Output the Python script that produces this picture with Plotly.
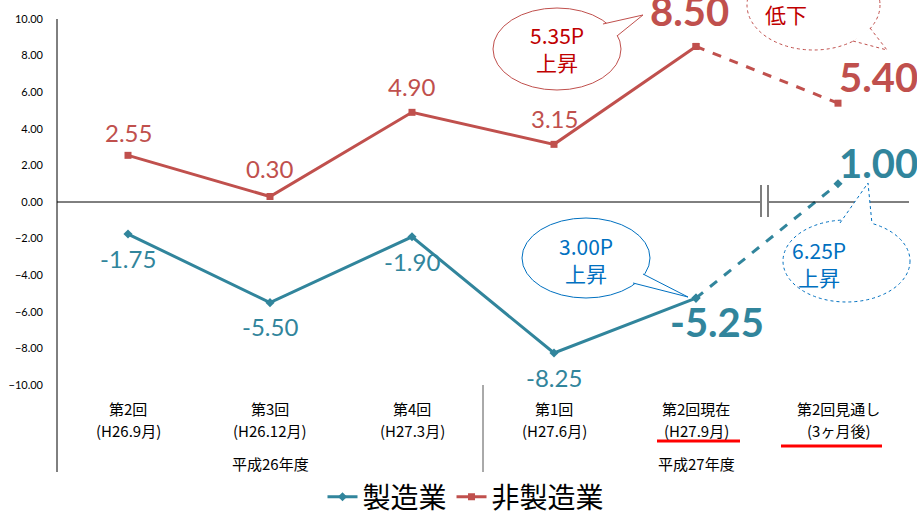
import plotly.graph_objects as go

# ---------------- data ----------------
categories = ["第2回", "第3回", "第4回", "第1回", "第2回現在", "第2回見通し"]
sub_labels = ["(H26.9月)", "(H26.12月)", "(H27.3月)", "(H27.6月)", "(H27.9月)", "(3ヶ月後)"]
groups = ["平成26年度", "平成27年度"]
group_pos = [1, 4]
manufacturing = [-1.75, -5.50, -1.90, -8.25, -5.25, 1.00]
non_manufacturing = [2.55, 0.30, 4.90, 3.15, 8.50, 5.40]
series_names = ["製造業", "非製造業"]
y_ticks = [10, 8, 6, 4, 2, 0, -2, -4, -6, -8, -10]

TEAL = "#31859C"
RED = "#C0504D"
BLUE_T = "#0070C0"
RED_T = "#C00000"

# plot-area geometry in pixels
L, R, T, B = 57, 909, 19, 385
W, H = 917, 513


def px(x):
    return (x - L) / (R - L)


def py(y):
    return (B - y) / (B - T)


xs = list(range(len(categories)))
fig = go.Figure()

# solid parts
fig.add_trace(go.Scatter(x=xs[:5], y=manufacturing[:5], mode="lines+markers", name=series_names[0],
                         line=dict(color=TEAL, width=3), marker=dict(symbol="diamond", size=7, color=TEAL)))
fig.add_trace(go.Scatter(x=xs[:5], y=non_manufacturing[:5], mode="lines+markers", name=series_names[1],
                         line=dict(color=RED, width=3), marker=dict(symbol="square", size=7, color=RED)))
# dashed forecast parts
fig.add_trace(go.Scatter(x=xs[4:], y=manufacturing[4:], mode="lines+markers", showlegend=False,
                         line=dict(color=TEAL, width=3, dash="dash"),
                         marker=dict(symbol="diamond", size=7, color=TEAL)))
fig.add_trace(go.Scatter(x=xs[4:], y=non_manufacturing[4:], mode="lines+markers", showlegend=False,
                         line=dict(color=RED, width=3, dash="dash"),
                         marker=dict(symbol="square", size=7, color=RED)))

annotations = []
# data labels (style offsets)
m_off = [(0, -24), (0, -24), (0, -25), (0, -25), (21, -24), (40, 21)]
n_off = [(0, 23), (0, 28), (0, 26), (0, 26), (-7, 35), (40, 26)]
for i in xs:
    big = i >= 4
    f = dict(family="Lato", size=40 if big else 24, color=TEAL)
    annotations.append(dict(x=i, y=manufacturing[i], xref="x", yref="y",
                            text=("<b>%.2f</b>" if big else "%.2f") % manufacturing[i],
                            showarrow=False, xshift=m_off[i][0], yshift=m_off[i][1], font=f))
    f2 = dict(family="Lato", size=40 if big else 24, color=RED)
    annotations.append(dict(x=i, y=non_manufacturing[i], xref="x", yref="y",
                            text=("<b>%.2f</b>" if big else "%.2f") % non_manufacturing[i],
                            showarrow=False, xshift=n_off[i][0], yshift=n_off[i][1], font=f2))

# category labels
cat_font = dict(family="Noto Sans CJK JP", size=15, color="#000000")
for i in xs:
    annotations.append(dict(x=i, y=py(408), xref="x", yref="paper", text=categories[i],
                            showarrow=False, font=cat_font, yanchor="middle"))
    annotations.append(dict(x=i, y=py(431), xref="x", yref="paper", text=sub_labels[i],
                            showarrow=False, font=cat_font, yanchor="middle"))
for g, gp in zip(groups, group_pos):
    annotations.append(dict(x=gp, y=py(463), xref="x", yref="paper", text=g,
                            showarrow=False, font=cat_font, yanchor="middle"))

shapes = []
# axis lines
shapes.append(dict(type="line", xref="paper", yref="paper", x0=0, x1=0, y0=1, y1=py(472),
                   line=dict(color="#000000", width=1)))
shapes.append(dict(type="line", xref="paper", yref="y", x0=0, x1=1, y0=0, y1=0,
                   line=dict(color="#000000", width=1)))
shapes.append(dict(type="line", xref="x", yref="paper", x0=2.5, x1=2.5, y0=0, y1=py(472),
                   line=dict(color="#555555", width=1)))
# axis break
shapes.append(dict(type="rect", xref="paper", yref="paper", x0=px(761), x1=px(768), y0=py(196), y1=py(208),
                   fillcolor="white", line=dict(width=0)))
for bx in (761, 768):
    shapes.append(dict(type="line", xref="paper", yref="paper", x0=px(bx), x1=px(bx), y0=py(185), y1=py(217),
                       line=dict(color="#7F7F7F", width=2)))
# red underlines
shapes.append(dict(type="line", xref="paper", yref="paper", x0=px(657), x1=px(740), y0=py(441), y1=py(441),
                   line=dict(color="#FF0000", width=3)))
shapes.append(dict(type="line", xref="paper", yref="paper", x0=px(781), x1=px(882), y0=py(446), y1=py(446),
                   line=dict(color="#FF0000", width=3)))


def callout(box, tail, color, dash, text, tcolor, tpos):
    x0, x1, y0, y1 = box
    shapes.append(dict(type="circle", xref="paper", yref="paper", x0=px(x0), x1=px(x1), y0=py(y1), y1=py(y0),
                       fillcolor="white", line=dict(color=color, width=1, dash=dash), layer="above"))
    (ax, ay), (tx, ty), (bx, by) = tail
    path = "M %f %f L %f %f L %f %f" % (px(ax), py(ay), px(tx), py(ty), px(bx), py(by))
    shapes.append(dict(type="path", xref="paper", yref="paper", path=path, fillcolor="white",
                       line=dict(color=color, width=1, dash=dash), layer="above"))
    cx, cy = tpos
    annotations.append(dict(x=px(cx), y=py(cy), xref="paper", yref="paper", text=text, showarrow=False,
                            yanchor="middle", font=dict(family="Noto Sans CJK JP", size=21, color=tcolor)))


callout((493, 621, 8, 90), ((603, 24), (643, 15), (617, 36)), RED, "solid",
        "5.35P<br>上昇", RED_T, (557, 49))
callout((747, 880, -40, 50), ((853, 41), (887, 50), (870, 28)), RED, "dot",
        "3.10P<br>低下", RED_T, (815, 1))
callout((522, 650, 218, 298), ((643, 274), (688, 297), (633, 283)), BLUE_T, "solid",
        "3.00P<br>上昇", BLUE_T, (586, 259))
callout((783, 910, 220, 302), ((840, 223), (868, 183), (872, 224)), BLUE_T, "dot",
        "6.25P<br>上昇", BLUE_T, (848, 263))

fig.update_layout(
    width=W, height=H,
    margin=dict(l=L, r=W - R, t=T, b=H - B, autoexpand=False),
    paper_bgcolor="white", plot_bgcolor="white",
    xaxis=dict(range=[-0.5, 5.5], showgrid=False, zeroline=False, showticklabels=False, showline=False,
               fixedrange=True, automargin=False),
    yaxis=dict(range=[-10, 10], tickvals=y_ticks, tickformat=".2f", showgrid=False, zeroline=False,
               showline=False, ticks="", ticklabelstandoff=13, automargin=False,
               tickfont=dict(family="Lato", size=11, color="#000000")),
    legend=dict(orientation="h", x=px(466), xanchor="center", y=py(497), yanchor="middle",
                font=dict(family="Noto Sans CJK JP", size=28, color="#000000"),
                tracegroupgap=0, bgcolor="rgba(0,0,0,0)"),
    annotations=annotations,
    shapes=shapes,
    showlegend=True,
)

fig.write_html("out.html", config={"displayModeBar": False},
               post_script="document.body.style.margin='0';document.body.style.overflow='hidden';")
